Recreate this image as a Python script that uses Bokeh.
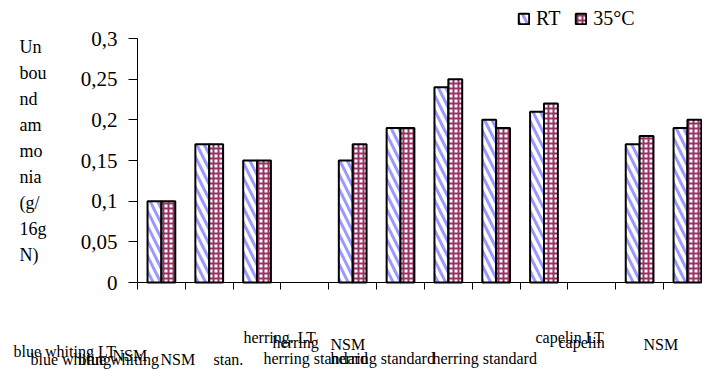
from bokeh.plotting import figure
from bokeh.models import Range1d, LinearAxis, FixedTicker, ColumnDataSource, Legend, LegendItem
from bokeh.transform import dodge
from bokeh.core.properties import value
from bokeh.embed import file_html
from bokeh.resources import INLINE

# ---------------- data ----------------
categories = ["blue whiting LT", "blue whiting NSM", "blue whiting stan.", "",
              "herring. LT", "herring NSM", "herring standard", "herring standard",
              "herring standard", "", "capelin LT", "capelin NSM"]
rt_values = [0.10, 0.17, 0.15, None, 0.15, 0.19, 0.24, 0.20, 0.21, None, 0.17, 0.19]
c35_values = [0.10, 0.17, 0.15, None, 0.17, 0.19, 0.25, 0.19, 0.22, None, 0.18, 0.20]
series_names = ["RT", "35°C"]
y_ticks = [0, 0.05, 0.1, 0.15, 0.2, 0.25, 0.3]
y_tick_labels = ["0", "0,05", "0,1", "0,15", "0,2", "0,25", "0,3"]
y_title_lines = ["Un", "bou", "nd", "am", "mo", "nia", "(g/", "16g", "N)"]

# category-label pieces as they appear (overlapping) under the axis:
# (text, left pixel, vertical-centre pixel)
label_pieces = [
    ("herring. LT", 243, 337),
    ("herring", 272, 342),
    ("NSM", 330, 344),
    ("capelin LT", 535, 337),
    ("capelin", 558, 342),
    ("NSM", 643, 344),
    ("blue whiting LT", 13, 351),
    ("NSM", 112, 355),
    ("blue whiting", 30, 359),
    ("blue whiting", 78, 359),
    ("NSM", 160, 359),
    ("stan.", 213, 359),
    ("herring standard", 263, 358),
    ("herring standard", 330, 358),
    ("herring standard", 432, 358),
]

# ---------------- geometry ----------------
W, H = 702, 369
PX_PER_CAT = 47.82
X0_PX = 137.0           # left boundary of first category
Y0_PX = 282.0           # baseline (value 0)
PX_PER_UNIT = 813.33

x_start = -0.5 - X0_PX / PX_PER_CAT
x_end = -0.5 + (W - X0_PX) / PX_PER_CAT
y_end = Y0_PX / PX_PER_UNIT
y_start = -(H - Y0_PX) / PX_PER_UNIT


def px2x(px):
    return x_start + px / PX_PER_CAT


def py2y(py):
    return y_end - py / PX_PER_UNIT


FONT = "Liberation Serif"

p = figure(width=W, height=H, x_range=Range1d(x_start, x_end), y_range=Range1d(y_start, y_end),
           x_axis_type=None, y_axis_type=None, toolbar_location=None, output_backend="svg",
           min_border=0, title=None)
p.outline_line_color = None
p.background_fill_color = "white"
p.border_fill_color = "white"

idx = [i for i, v in enumerate(rt_values) if v is not None]
src = ColumnDataSource(dict(x=idx,
                            rt=[rt_values[i] for i in idx],
                            c35=[c35_values[i] for i in idx]))

bw = 0.29
r1 = p.vbar(x=dodge("x", -bw / 2), top="rt", bottom=0, width=bw, source=src,
            fill_color="white", hatch_pattern="left_diagonal_line", hatch_color="#9999ff",
            hatch_weight=3, hatch_scale=15, line_color="black", line_width=2)
r2 = p.vbar(x=dodge("x", bw / 2), top="c35", bottom=0, width=bw, source=src,
            fill_color="white", hatch_pattern="cross", hatch_color="#993366",
            hatch_weight=2, hatch_scale=5, line_color="black", line_width=2)

# axes (fixed inside the full-canvas frame)
xaxis = LinearAxis(fixed_location=0,
                   ticker=FixedTicker(ticks=[i - 0.5 for i in range(len(categories))]),
                   bounds=(-0.5, len(categories) - 0.5),
                   major_label_overrides={i - 0.5: "" for i in range(len(categories))},
                   axis_line_color="black", axis_line_width=1,
                   major_tick_line_color="black", major_tick_out=7, major_tick_in=0,
                   minor_tick_out=0, minor_tick_in=0)
p.add_layout(xaxis, "below")

yaxis = LinearAxis(fixed_location=-0.5, ticker=FixedTicker(ticks=y_ticks), bounds=(0, 0.3),
                   major_label_overrides=dict(zip(y_ticks, y_tick_labels)),
                   axis_line_color="black", axis_line_width=1,
                   major_tick_line_color="black", major_tick_out=9, major_tick_in=0,
                   minor_tick_out=0, minor_tick_in=0,
                   major_label_standoff=11,
                   major_label_text_font=FONT, major_label_text_font_size="21px",
                   major_label_text_color="black")
p.add_layout(yaxis, "left")

# y-axis title (stacked)
p.text(x=[px2x(19)], y=[py2y(36)], text=["\n".join(y_title_lines)],
       text_font=value(FONT), text_font_size="18px", text_color="black",
       text_align="left", text_baseline="top", text_line_height=1.3)

# category labels
p.text(x=[px2x(t[1]) for t in label_pieces], y=[py2y(t[2]) for t in label_pieces],
       text=[t[0] for t in label_pieces],
       text_font=value(FONT), text_font_size="16px", text_color="black",
       text_align="left", text_baseline="middle")

legend = Legend(items=[LegendItem(label=series_names[0], renderers=[r1]),
                       LegendItem(label=series_names[1], renderers=[r2])],
                orientation="horizontal", location=(517, H - 9.5 - 20),
                border_line_color=None, background_fill_alpha=0,
                label_text_font=FONT, label_text_font_size="20px", label_text_color="black",
                glyph_width=13, glyph_height=13, label_standoff=6, spacing=14,
                padding=0, margin=0, label_height=20)
p.add_layout(legend)

open("out.html", "w").write(file_html(p, INLINE))
